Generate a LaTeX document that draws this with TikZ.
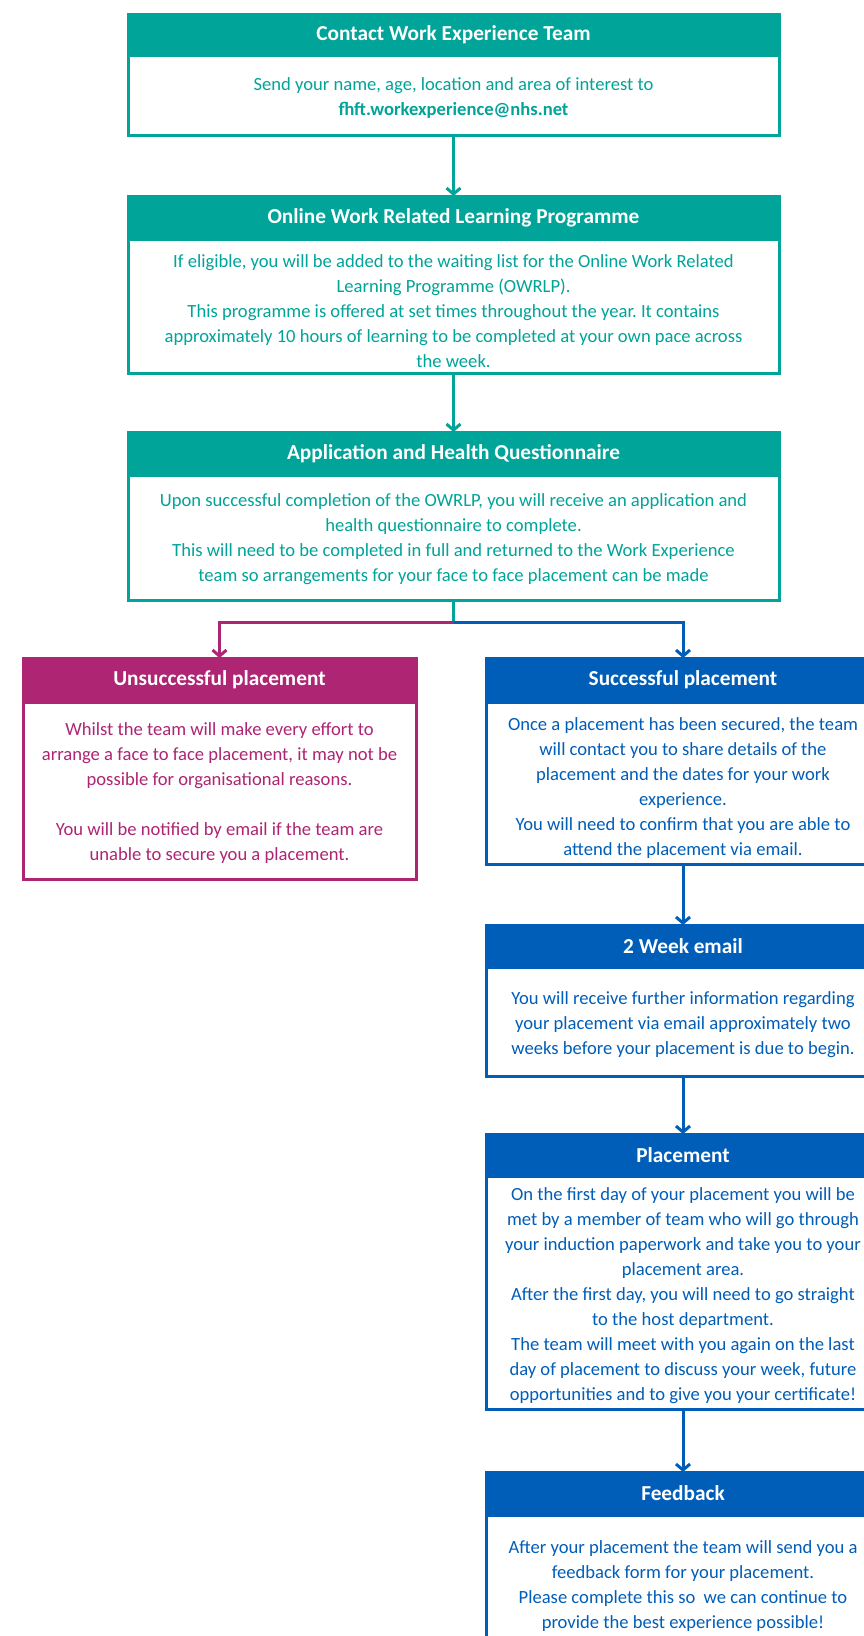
\documentclass[tikz,border=0pt]{standalone}
\usepackage{fontspec}
\setmainfont{Carlito}
\usetikzlibrary{arrows.meta}
\definecolor{nhsteal}{HTML}{00A499}
\definecolor{nhspink}{HTML}{AE2573}
\definecolor{nhsblue}{HTML}{005EB8}
\frenchspacing
\tikzset{
  hdr/.style={fill=#1, draw=#1, line width=3pt, text=white, anchor=north,
    font=\bfseries\fontsize{21.3}{25}\selectfont, inner sep=0pt, outer sep=0pt},
  bodybox/.style={draw=#1, line width=3pt, anchor=north, inner sep=0pt, outer sep=0pt},
  txt/.style={text=#1, align=center, inner sep=0pt,
    font=\frenchspacing\fontsize{18.6}{25}\selectfont},
  wide/.style={minimum width=651pt},
  narrow/.style={minimum width=394pt},
  flow/.style={draw=#1, line width=3pt, -{Straight Barb[length=6pt,width=14pt]}},
  plain/.style={draw=#1, line width=3pt}
}
\begin{document}
\begin{tikzpicture}[x=1pt,y=-1pt]
\useasboundingbox (0,0) rectangle (864,1636);
\clip (0,0) rectangle (864,1636);
\fill[white] (0,0) rectangle (864,1636);

% Box 1
\node[hdr=nhsteal, wide, minimum height=41pt] (h1) at (453.5,14) {Contact Work Experience Team};
\node[bodybox=nhsteal, wide, minimum height=80pt] (b1) at (h1.south) {};
\node[txt=nhsteal, yshift=-3pt] (t1) at (b1.center)
  {Send your name, age, location and area of interest to\\ \textbf{fhft.workexperience@nhs.net}};

% Box 2
\node[hdr=nhsteal, wide, minimum height=43pt] (h2) at (453.5,196) {Online Work Related Learning Programme};
\node[bodybox=nhsteal, wide, minimum height=134pt] (b2) at (h2.south) {};
\node[txt=nhsteal, yshift=-5pt] (t2) at (b2.center)
  {If eligible, you will be added to the waiting list for the Online Work Related\\
   Learning Programme (OWRLP).\\
   This programme is offered at set times throughout the year. It contains\\
   approximately 10 hours of learning to be completed at your own pace across\\
   the week.};

% Box 3
\node[hdr=nhsteal, wide, minimum height=43pt] (h3) at (453.5,432) {Application and Health Questionnaire};
\node[bodybox=nhsteal, wide, minimum height=125pt] (b3) at (h3.south) {};
\node[txt=nhsteal, yshift=-2pt] (t3) at (b3.center)
  {Upon successful completion of the OWRLP, you will receive an application and\\
   health questionnaire to complete.\\
   This will need to be completed in full and returned to the Work Experience\\
   team so arrangements for your face to face placement can be made};

% Box 4
\node[hdr=nhspink, minimum width=393pt, minimum height=44pt] (h4) at (219.5,658) {Unsuccessful placement};
\node[bodybox=nhspink, minimum width=393pt, minimum height=177pt] (b4) at (h4.south) {};
\node[txt=nhspink, yshift=-3pt] (t4) at (b4.center)
  {Whilst the team will make every effort to\\
   arrange a face to face placement, it may not be\\
   possible for organisational reasons.\\[25pt]
   You will be notified by email if the team are\\
   unable to secure you a placement.};

% Box 5
\node[hdr=nhsblue, narrow, minimum height=44pt] (h5) at (683,658) {Successful placement};
\node[bodybox=nhsblue, narrow, minimum height=162pt] (b5) at (h5.south) {};
\node[txt=nhsblue, yshift=-5pt] (t5) at (b5.center)
  {Once a placement has been secured, the team\\
   will contact you to share details of the\\
   placement and the dates for your work\\
   experience.\\
   You will need to confirm that you are able to\\
   attend the placement via email.};

% Box 6
\node[hdr=nhsblue, narrow, minimum height=42pt] (h6) at (683,925) {2 Week email};
\node[bodybox=nhsblue, narrow, minimum height=109pt] (b6) at (h6.south) {};
\node[txt=nhsblue, yshift=-3pt] (t6) at (b6.center)
  {You will receive further information regarding\\
   your placement via email approximately two\\
   weeks before your placement is due to begin.};

% Box 7
\node[hdr=nhsblue, narrow, minimum height=42pt] (h7) at (683,1134) {Placement};
\node[bodybox=nhsblue, narrow, minimum height=233pt] (b7) at (h7.south) {};
\node[txt=nhsblue, yshift=-3pt] (t7) at (b7.center)
  {On the first day of your placement you will be\\
   met by a member of team who will go through\\
   your induction paperwork and take you to your\\
   placement area.\\
   After the first day, you will need to go straight\\
   to the host department.\\
   The team will meet with you again on the last\\
   day of placement to discuss your week, future\\
   opportunities and to give you your certificate!};

% Box 8
\node[hdr=nhsblue, narrow, minimum height=43pt] (h8) at (683,1472) {Feedback};
\node[bodybox=nhsblue, narrow, minimum height=142pt] (b8) at (h8.south) {};
\node[txt=nhsblue] (t8) at (b8.center)
  {After your placement the team will send you a\\
   feedback form for your placement.\\
   Please complete this so \ we can continue to\\
   provide the best experience possible!};

% Connectors
\coordinate (split) at (453.5,622);
\draw[flow=nhsteal] (b1.south) -- (h2.north);
\draw[flow=nhsteal] (b2.south) -- (h3.north);
\draw[plain=nhsteal] (b3.south) -- (split);
\draw[flow=nhspink] (split) -| (h4.north);
\draw[flow=nhsblue] (split) -| (h5.north);
\draw[flow=nhsblue] (b5.south) -- (h6.north);
\draw[flow=nhsblue] (b6.south) -- (h7.north);
\draw[flow=nhsblue] (b7.south) -- (h8.north);
\end{tikzpicture}
\end{document}
